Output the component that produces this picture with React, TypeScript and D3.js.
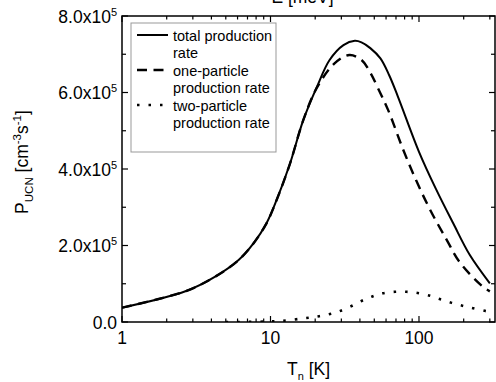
import React from 'react';
import * as d3 from 'd3';

// temperatures (K) and production rates (cm^-3 s^-1)
const totalT = [1, 2.7, 4.3, 6.1, 7.7, 9.4, 11, 13.5, 16.6, 20.5, 25, 31, 37, 41, 47, 55, 63, 72, 100, 130, 170, 220, 300];
const totalP = [37500, 81000, 120000, 162000, 206000, 258000, 319000, 413000, 527000, 614000, 685000, 724000, 735000, 731000, 716000, 689000, 645000, 590000, 445000, 348000, 258000, 175000, 101000];

const oneT = [1, 2.7, 4.3, 6.1, 7.7, 9.4, 11, 13.5, 16.6, 20.5, 27, 34, 41, 47, 53, 62, 78, 96, 119, 154, 189, 264, 300];
const oneP = [37500, 81000, 120000, 162000, 206000, 258000, 319000, 413000, 527000, 612000, 676000, 698000, 685000, 652000, 611000, 554000, 452000, 369000, 293000, 214000, 155000, 95000, 80000];

const twoT = [5, 8, 11.9, 17, 20.5, 24.5, 28.6, 34.4, 41, 48, 57, 69, 82, 98, 120, 140, 166, 199, 238, 286, 300];
const twoP = [0, 500, 3000, 10000, 14000, 20000, 27000, 40000, 55000, 66000, 75000, 79000, 79000, 76000, 68000, 59000, 50000, 42000, 35000, 28000, 27000];

const xMajor = [1, 10, 100];
const xMinor = [2, 3, 4, 5, 6, 7, 8, 9, 20, 30, 40, 50, 60, 70, 80, 90, 200, 300];
const yMajor = [0, 200000, 400000, 600000, 800000];
const yMinor = [100000, 300000, 500000, 700000];
const yLabels = ['0.0', '2.0x10', '4.0x10', '6.0x10', '8.0x10'];

const legendItems = [
  { lines: ['total production', 'rate'], dash: null, width: 2 },
  { lines: ['one-particle', 'production rate'], dash: '10,6.5', width: 2.4 },
  { lines: ['two-particle', 'production rate'], dash: '2.5,9', width: 2.6 },
];

const W = 496, H = 382;
const m = { left: 122, top: 16, right: 495, bottom: 322 };
const FONT = '"Liberation Sans", Arial, sans-serif';

export default function App() {
  const x = d3.scaleLog().domain([1, 325]).range([m.left, m.right]);
  const y = d3.scaleLinear().domain([0, 800000]).range([m.bottom, m.top]);

  const line = d3.line<[number, number]>()
    .x(d => x(d[0]))
    .y(d => y(d[1]))
    .curve(d3.curveCatmullRom.alpha(0.5));

  const zip = (ts: number[], ps: number[]) => ts.map((t, i) => [t, ps[i]] as [number, number]);

  const series = [
    { d: line(zip(totalT, totalP)), dash: null, width: 2 },
    { d: line(zip(oneT, oneP)), dash: '10,6.5', width: 2.4 },
    { d: line(zip(twoT, twoP)), dash: '2.5,9', width: 2.6 },
  ];

  return (
    <svg width={W} height={H} style={{ position: 'absolute', left: 0, top: 0, fontFamily: FONT }}>
      <rect width={W} height={H} fill="#fff" />

      {/* top title, cut off like in the source figure */}
      <text x={302.5} y={3} textAnchor="middle" fontSize={17.5}>E [meV]</text>

      <clipPath id="plot">
        <rect x={m.left} y={m.top} width={m.right - m.left} height={m.bottom - m.top} />
      </clipPath>
      <g clipPath="url(#plot)">
        {series.map((s, i) => (
          <path key={i} d={s.d || ''} fill="none" stroke="#000" strokeWidth={s.width}
            strokeDasharray={s.dash || undefined} />
        ))}
      </g>

      {/* legend */}
      <rect x={131} y={23} width={145} height={129} fill="#fff" stroke="#999" strokeWidth={1} />
      {legendItems.map((it, i) => {
        const base = 40.5 + i * 35;
        return (
          <g key={i}>
            <line x1={137} x2={168} y1={base - 5.5} y2={base - 5.5} stroke="#000"
              strokeWidth={it.width} strokeDasharray={it.dash || undefined} />
            {it.lines.map((t, j) => (
              <text key={j} x={173} y={base + j * 17.5} fontSize={14.5}>{t}</text>
            ))}
          </g>
        );
      })}

      {/* frame */}
      <rect x={m.left} y={m.top} width={m.right - m.left} height={m.bottom - m.top}
        fill="none" stroke="#000" strokeWidth={1.5} />

      {/* x ticks, bottom and top, inward */}
      {xMajor.concat(xMinor).map((t, i) => {
        const len = xMajor.includes(t) ? 6 : 3.5;
        return (
          <g key={'xt' + i}>
            <line x1={x(t)} x2={x(t)} y1={m.bottom} y2={m.bottom - len} stroke="#000" strokeWidth={1.2} />
            <line x1={x(t)} x2={x(t)} y1={m.top} y2={m.top + len} stroke="#000" strokeWidth={1.2} />
          </g>
        );
      })}
      {xMajor.map(t => (
        <text key={'xl' + t} x={x(t)} y={344} textAnchor="middle" fontSize={17.5}>{t}</text>
      ))}

      {/* y ticks, left and right, inward */}
      {yMajor.concat(yMinor).map((v, i) => {
        const len = yMajor.includes(v) ? 6 : 4;
        return (
          <g key={'yt' + i}>
            <line x1={m.left} x2={m.left + len} y1={y(v)} y2={y(v)} stroke="#000" strokeWidth={1.2} />
            <line x1={m.right} x2={m.right - len} y1={y(v)} y2={y(v)} stroke="#000" strokeWidth={1.2} />
          </g>
        );
      })}
      {yMajor.map((v, i) => (
        <text key={'yl' + v} x={117} y={y(v) + 6.5} textAnchor="end" fontSize={17.5}>
          {yLabels[i]}
          {v > 0 && <tspan dy={-7} fontSize={11}>5</tspan>}
        </text>
      ))}

      {/* axis titles */}
      <text x={308.5} y={375} textAnchor="middle" fontSize={17.5}>
        T<tspan dy={5} fontSize={11}>n</tspan><tspan dy={-5}> [K]</tspan>
      </text>
      <text transform="translate(28,162) rotate(-90)" textAnchor="middle" fontSize={17.5}>
        P<tspan dy={5} fontSize={11.5}>UCN</tspan>
        <tspan dy={-5}> [cm</tspan>
        <tspan dy={-7} fontSize={11.5}>-3</tspan>
        <tspan dy={7}>s</tspan>
        <tspan dy={-7} fontSize={11.5}>-1</tspan>
        <tspan dy={7}>]</tspan>
      </text>
    </svg>
  );
}
